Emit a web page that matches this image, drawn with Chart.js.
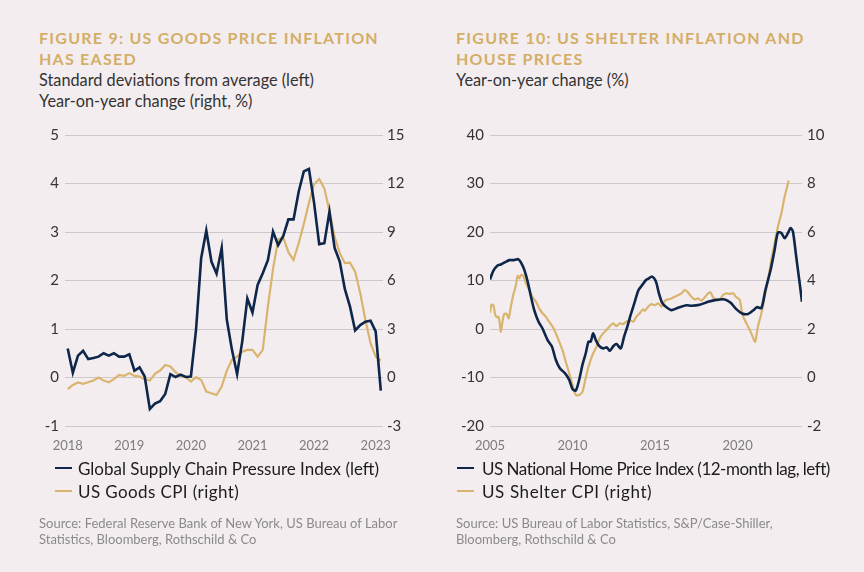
<!DOCTYPE html>
<html><head><meta charset="utf-8">
<script src="https://cdn.jsdelivr.net/npm/chart.js@4.4.1/dist/chart.umd.min.js"></script>
<style>
html,body{margin:0;padding:0;background:#f4edef;}
body{width:864px;height:572px;position:relative;overflow:hidden;font-family:Lato,sans-serif;}
.t{position:absolute;white-space:nowrap;}
.title{color:#d3ae67;font-weight:700;font-size:16px;letter-spacing:1.25px;line-height:20.5px;}
.sub{color:#333;font-size:16.3px;line-height:20.5px;}
.leg{color:#1c1c1c;font-size:17px;line-height:23px;}
.mk{position:absolute;width:17px;height:2.5px;}
.src{color:#8a8a8a;font-size:13px;line-height:16.5px;}
.cv{position:absolute;top:120px;width:432px;height:340px;}
</style></head>
<body>
<div class="t title" style="left:39px;top:28px;">FIGURE 9: US GOODS PRICE INFLATION<br>HAS EASED</div>
<div class="t sub" style="left:39px;top:70px;">Standard deviations from average (left)<br>Year-on-year change (right, %)</div>
<div class="t title" style="left:456px;top:28px;">FIGURE 10: US SHELTER INFLATION AND<br>HOUSE PRICES</div>
<div class="t sub" style="left:456px;top:70px;">Year-on-year change (%)</div>

<div class="cv" style="left:0;"><canvas id="c1" width="432" height="340"></canvas></div>
<div class="cv" style="left:432px;"><canvas id="c2" width="432" height="340"></canvas></div>

<div class="mk" style="left:55px;top:466.5px;background:#0e2649;"></div>
<div class="mk" style="left:55px;top:489.5px;background:#d8b46e;"></div>
<div class="t leg" style="left:78px;top:456.5px;">Global Supply Chain Pressure Index (left)<br><span style="letter-spacing:0.4px">US Goods CPI (right)</span></div>
<div class="t src" style="left:39px;top:514.5px;">Source: Federal Reserve Bank of New York, US Bureau of Labor<br>Statistics, Bloomberg, Rothschild &amp; Co</div>

<div class="mk" style="left:457px;top:466.5px;background:#0e2649;"></div>
<div class="mk" style="left:457px;top:489.5px;background:#d8b46e;"></div>
<div class="t leg" style="left:482px;top:456.5px;"><span style="letter-spacing:-0.5px">US National Home Price Index (12-month lag, left)</span><br><span style="letter-spacing:0.6px">US Shelter CPI (right)</span></div>
<div class="t src" style="left:456px;top:514.5px;">Source: US Bureau of Labor Statistics, S&amp;P/Case-Shiller,<br>Bloomberg, Rothschild &amp; Co</div>

<script>
// ---------- Figure 9 data (monthly, Jan 2018 onwards) ----------
const fig9StartYear = 2018;
const fig9Years = [2018, 2019, 2020, 2021, 2022, 2023];
const gscpi = [
  0.60, 0.10, 0.45, 0.55, 0.38, 0.40, 0.43, 0.50, 0.45, 0.50, 0.43, 0.43,
  0.48, 0.14, 0.21, 0.02, -0.65, -0.54, -0.49, -0.34, 0.07, 0.01, 0.06, 0.01,
  0.02, 0.98, 2.46, 3.03, 2.39, 2.14, 2.67, 1.19, 0.57, 0.07, 0.74, 1.63,
  1.34, 1.91, 2.15, 2.42, 3.01, 2.73, 2.92, 3.26, 3.26, 3.83, 4.25, 4.30,
  3.60, 2.75, 2.77, 3.42, 2.67, 2.39, 1.82, 1.46, 0.97, 1.08, 1.15, 1.17,
  0.95, -0.27
];
const goodsCpi = [
  -0.72, -0.46, -0.31, -0.39, -0.29, -0.19, 0.00, -0.19, -0.29, -0.10, 0.16, 0.10,
  0.27, 0.10, 0.06, -0.10, -0.19, 0.23, 0.43, 0.78, 0.68, 0.33, 0.10, 0.02,
  -0.25, 0.02, -0.15, -0.87, -0.97, -1.08, -0.56, 0.43, 1.09, 1.29, 1.60, 1.71,
  1.71, 1.29, 1.71, 4.38, 6.70, 8.55, 8.65, 7.75, 7.27, 8.30, 9.50, 10.80,
  11.95, 12.28, 11.70, 10.30, 8.70, 7.69, 7.07, 7.10, 6.55, 5.21, 3.56, 2.12,
  1.29, 1.05
];
const fig9LeftTicks = [-1, 0, 1, 2, 3, 4, 5];
const fig9RightTicks = [-3, 0, 3, 6, 9, 12, 15];

// ---------- Figure 10 data ----------
const fig10Years = [2005, 2010, 2015, 2020];
const hpiDates = [
  2005.0, 2005.2, 2005.46, 2005.66, 2005.93, 2006.17, 2006.43, 2006.71, 2006.88, 2007.08,
  2007.28, 2007.48, 2007.68, 2007.94, 2008.18, 2008.49, 2008.75, 2008.99, 2009.23, 2009.54,
  2009.8, 2010.0, 2010.2, 2010.4, 2010.6, 2010.8, 2010.97, 2011.1, 2011.25, 2011.41,
  2011.61, 2011.85, 2012.08, 2012.26, 2012.48, 2012.66, 2012.92, 2013.12, 2013.32, 2013.52,
  2013.77, 2013.99, 2014.23, 2014.45, 2014.6, 2014.82, 2015.05, 2015.23, 2015.43, 2015.69,
  2015.99, 2016.4, 2016.9, 2017.2, 2017.71, 2018.21, 2018.71, 2019.22, 2019.58, 2019.92,
  2020.27, 2020.63, 2020.93, 2021.17, 2021.44, 2021.68, 2022.0, 2022.24, 2022.44, 2022.65,
  2022.85, 2023.05, 2023.21, 2023.35, 2023.55, 2023.76, 2023.9
];
const hpiValues = [
  10.2, 12.0, 13.1, 13.3, 13.8, 14.2, 14.2, 14.4, 13.7, 12.2,
  9.8, 6.7, 3.9, 1.5, 0.1, -2.3, -3.6, -6.4, -8.1, -9.1,
  -10.5, -12.4, -12.7, -10.5, -7.4, -5.0, -2.6, -2.6, -0.9, -2.3,
  -3.5, -4.0, -3.8, -4.5, -3.5, -3.1, -4.0, -1.6, 0.5, 2.9,
  5.6, 8.0, 9.1, 10.1, 10.4, 10.8, 9.8, 7.4, 5.4, 4.5,
  3.9, 4.4, 4.9, 4.8, 5.0, 5.6, 6.0, 6.1, 5.4, 4.1,
  3.2, 3.1, 3.8, 4.5, 4.3, 8.0, 12.2, 16.3, 19.9, 19.8,
  18.7, 19.8, 20.8, 20.1, 14.9, 9.4, 5.6
];
const shelterDates = [
  2005.0, 2005.08, 2005.2, 2005.32, 2005.42, 2005.52, 2005.6, 2005.66, 2005.77, 2005.87,
  2006.01, 2006.13, 2006.27, 2006.41, 2006.57, 2006.67, 2006.77, 2006.88, 2007.02, 2007.18,
  2007.38, 2007.58, 2007.78, 2007.98, 2008.18, 2008.38, 2008.58, 2008.79, 2008.99, 2009.19,
  2009.39, 2009.59, 2009.8, 2010.0, 2010.2, 2010.4, 2010.6, 2010.77, 2010.97, 2011.21,
  2011.45, 2011.65, 2011.85, 2012.05, 2012.26, 2012.46, 2012.66, 2012.86, 2013.06, 2013.26,
  2013.47, 2013.67, 2013.87, 2014.07, 2014.27, 2014.38, 2014.58, 2014.78, 2014.98, 2015.19,
  2015.39, 2015.59, 2015.79, 2015.99, 2016.19, 2016.4, 2016.6, 2016.8, 2017.0, 2017.2,
  2017.4, 2017.61, 2017.81, 2018.01, 2018.21, 2018.37, 2018.51, 2018.71, 2018.92, 2019.12,
  2019.32, 2019.52, 2019.72, 2019.92, 2020.13, 2020.27, 2020.43, 2020.63, 2020.83, 2020.99,
  2021.07, 2021.23, 2021.44, 2021.64, 2021.84, 2022.04, 2022.24, 2022.44, 2022.65, 2022.85,
  2023.01, 2023.09
];
const shelterValues = [
  2.67, 2.99, 2.99, 2.58, 2.48, 2.50, 2.16, 1.89, 2.37, 2.62,
  2.62, 2.44, 2.95, 3.40, 3.81, 4.19, 4.09, 4.23, 4.19, 3.88,
  3.61, 3.31, 3.13, 2.85, 2.65, 2.51, 2.30, 2.10, 1.82, 1.48,
  1.13, 0.65, 0.17, -0.31, -0.72, -0.72, -0.59, -0.10, 0.45, 0.93,
  1.27, 1.62, 1.82, 1.96, 2.12, 2.23, 2.12, 2.23, 2.20, 2.30,
  2.37, 2.30, 2.51, 2.65, 2.81, 2.75, 2.92, 3.03, 2.98, 3.06,
  2.92, 3.17, 3.22, 3.26, 3.33, 3.40, 3.47, 3.61, 3.50, 3.33,
  3.22, 3.26, 3.17, 3.31, 3.47, 3.50, 3.31, 3.20, 3.22, 3.40,
  3.47, 3.45, 3.47, 3.31, 3.20, 2.65, 2.37, 2.10, 1.82, 1.55,
  1.48, 2.10, 2.65, 3.33, 4.02, 4.85, 5.53, 6.22, 6.77, 7.46,
  7.90, 8.12
];
const fig10LeftTicks = [-20, -10, 0, 10, 20, 30, 40];
const fig10RightTicks = [-2, 0, 2, 4, 6, 8, 10];

const NAVY = '#0e2649';
const GOLD = '#d8b46e';

function pts(xs, ys) { return ys.map((y, i) => ({ x: xs[i], y: y })); }
const fig9Dates = gscpi.map((_, i) => fig9StartYear + i / 12);

function makeChart(id, cfg) {
  const tickFont = { family: 'Lato', size: 15 };
  new Chart(document.getElementById(id), {
    type: 'line',
    data: {
      datasets: [
        { data: cfg.blue, yAxisID: 'yL', borderColor: NAVY, borderWidth: 2.6, pointRadius: 0, tension: cfg.tension },
        { data: cfg.gold, yAxisID: 'yR', borderColor: GOLD, borderWidth: 2.2, pointRadius: 0, tension: cfg.tension }
      ]
    },
    options: {
      responsive: false,
      animation: false,
      layout: { padding: { top: 15, left: 0, right: 0, bottom: 0 } },
      plugins: { legend: { display: false }, tooltip: { enabled: false } },
      scales: {
        x: {
          type: 'linear', min: cfg.xmin, max: cfg.xmax,
          grid: { display: false, drawTicks: false },
          border: { display: false },
          afterBuildTicks: s => { s.ticks = cfg.xTicks.map(v => ({ value: v })); },
          afterFit: s => { s.height = 34; },
          ticks: { autoSkip: false, maxRotation: 0, padding: 12, color: '#7d7d7d',
                   font: { family: 'Lato', size: 13 }, callback: v => String(v) }
        },
        yL: {
          position: 'left', min: cfg.lTicks[0], max: cfg.lTicks[cfg.lTicks.length - 1],
          afterBuildTicks: s => { s.ticks = cfg.lTicks.map(v => ({ value: v })); },
          afterFit: s => { s.width = cfg.lw; },
          grid: { color: '#cdc8ca', lineWidth: 1, drawTicks: false },
          border: { display: false },
          ticks: { padding: cfg.lpad, color: '#333', font: tickFont, callback: v => String(v) }
        },
        yR: {
          position: 'right', min: cfg.rTicks[0], max: cfg.rTicks[cfg.rTicks.length - 1],
          afterBuildTicks: s => { s.ticks = cfg.rTicks.map(v => ({ value: v })); },
          afterFit: s => { s.width = cfg.rw; },
          grid: { display: false, drawTicks: false },
          border: { display: false },
          ticks: { padding: cfg.rpad, color: '#333', font: tickFont, callback: v => String(v) }
        }
      }
    }
  });
}

makeChart('c1', {
  blue: pts(fig9Dates, gscpi), gold: pts(fig9Dates, goodsCpi), tension: 0,
  xmin: 2017.956, xmax: 2023.119, xTicks: fig9Years,
  lTicks: fig9LeftTicks, rTicks: fig9RightTicks, lw: 65, rw: 49, lpad: 6, rpad: 4
});
makeChart('c2', {
  blue: pts(hpiDates, hpiValues), gold: pts(shelterDates, shelterValues), tension: 0.25,
  xmin: 2005, xmax: 2023.9, xTicks: fig10Years,
  lTicks: fig10LeftTicks, rTicks: fig10RightTicks, lw: 58, rw: 62, lpad: 6, rpad: 5
});
</script>
</body></html>
